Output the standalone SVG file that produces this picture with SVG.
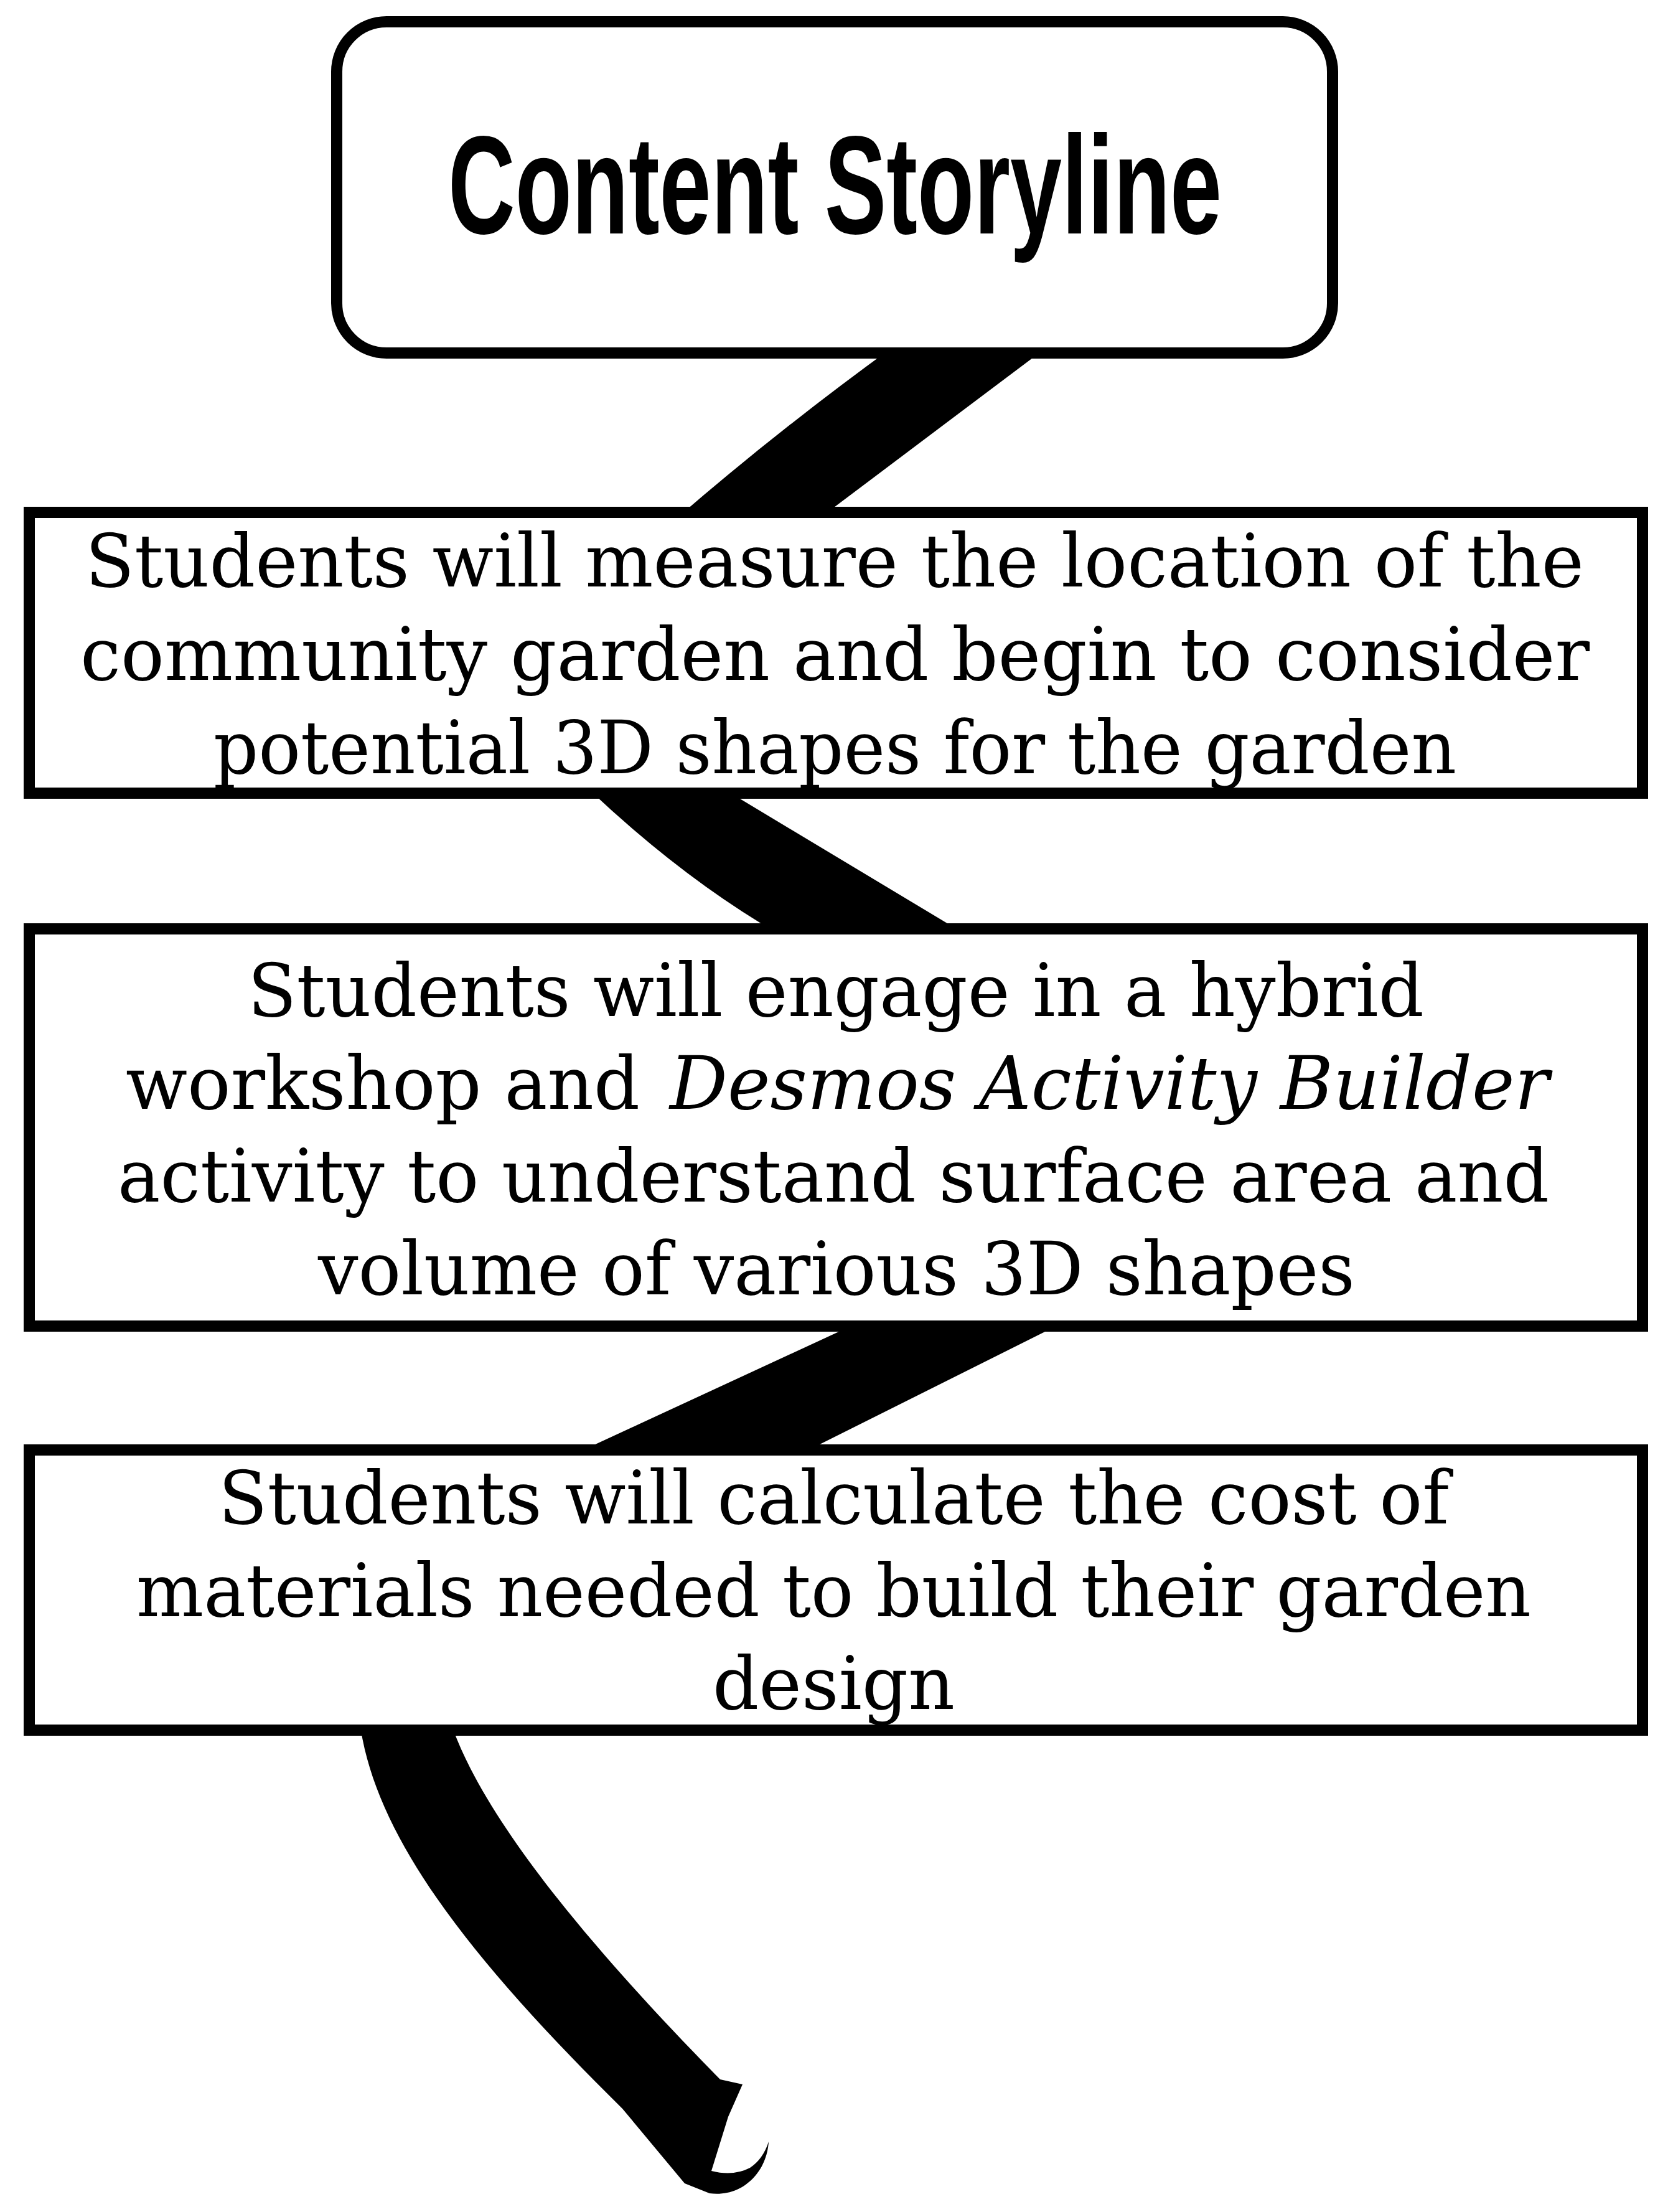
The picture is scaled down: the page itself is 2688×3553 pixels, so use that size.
<svg xmlns="http://www.w3.org/2000/svg" width="2688" height="3553" viewBox="0 0 2688 3553">
<style>
.box{fill:#fff;stroke:#000;stroke-width:18}
.rib{fill:#000}
.t{font-family:"DejaVu Serif","Liberation Serif",serif;font-size:118px;fill:#000}
.title{font-family:"Liberation Sans Narrow","Liberation Sans",sans-serif;font-weight:bold;font-size:224px;fill:#000}
</style>
<rect width="2688" height="3553" fill="#fff"/>
<g id="connectors">
<path class="rib" d="M1431,560 L1679,560 L1320,830 L1090,830 Q1252,690 1431,560 Z"/>
<path class="rib" d="M943,1265 L1159,1265 L1550,1500 L1251,1500 Q1097,1411 943,1265 Z"/>
<path class="rib" d="M1378,2125 L1707,2125 L1287,2335 L924,2335 Z"/>
<path class="rib" d="M576,2775 L727,2775 C790,2950 1000,3180 1157,3340 L1193,3348 L1170,3400 L1143,3487 Q1178,3496 1205,3482 Q1226,3468 1235,3440 C1232,3490 1192,3530 1140,3523 L1100,3507 L1000,3387 C760,3150 610,2960 580,2780 Z"/>
</g>
<g id="node-title">
<rect class="box" x="541" y="35" width="1600" height="532" rx="80" ry="80"/>
<text class="title" x="720" y="375" textLength="1243" lengthAdjust="spacingAndGlyphs">Content Storyline</text>
</g>
<g id="node-1">
<rect class="box" x="47" y="823" width="2592" height="451"/>
<text class="t" x="137" y="942" textLength="2408" lengthAdjust="spacingAndGlyphs">Students will measure the location of the</text>
<text class="t" x="129" y="1092" textLength="2425" lengthAdjust="spacingAndGlyphs">community garden and begin to consider</text>
<text class="t" x="343" y="1242" textLength="1997" lengthAdjust="spacingAndGlyphs">potential 3D shapes for the garden</text>
</g>
<g id="node-2">
<rect class="box" x="47" y="1492" width="2592" height="638"/>
<text class="t" x="398" y="1632" textLength="1890" lengthAdjust="spacingAndGlyphs">Students will engage in a hybrid</text>
<text class="t" x="202" y="1781" textLength="826" lengthAdjust="spacingAndGlyphs">workshop and</text>
<text class="t" x="1076" y="1781" textLength="1413" lengthAdjust="spacingAndGlyphs" font-style="italic">Desmos Activity Builder</text>
<text class="t" x="189" y="1930" textLength="2300" lengthAdjust="spacingAndGlyphs">activity to understand surface area and</text>
<text class="t" x="511" y="2079" textLength="1666" lengthAdjust="spacingAndGlyphs">volume of various 3D shapes</text>
</g>
<g id="node-3">
<rect class="box" x="47" y="2329" width="2592" height="450"/>
<text class="t" x="351" y="2447" textLength="1977" lengthAdjust="spacingAndGlyphs">Students will calculate the cost of</text>
<text class="t" x="219" y="2596" textLength="2241" lengthAdjust="spacingAndGlyphs">materials needed to build their garden</text>
<text class="t" x="1145" y="2745" textLength="389" lengthAdjust="spacingAndGlyphs">design</text>
</g>
</svg>
